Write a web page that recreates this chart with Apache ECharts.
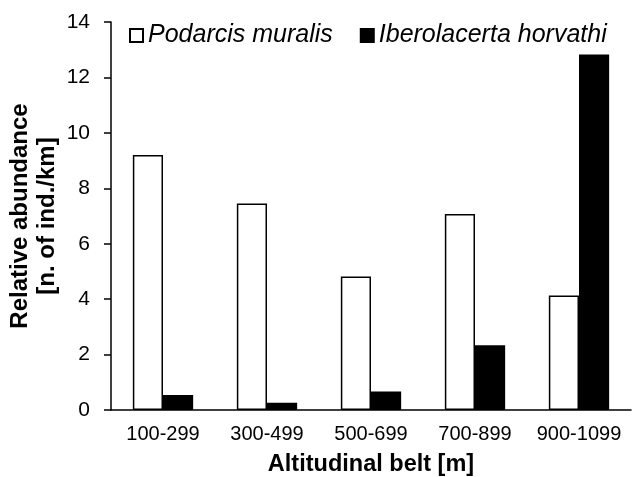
<!DOCTYPE html>
<html>
<head>
<meta charset="utf-8">
<script src="https://cdn.jsdelivr.net/npm/echarts@6/dist/echarts.min.js"></script>
<style>
  * { padding: 0; margin: 0; }
  body { background: #fff; }
</style>
</head>
<body>
<div id="chart" style="width: 632px; height: 477px"></div>
<script>
  var belts = ["100-299", "300-499", "500-699", "700-899", "900-1099"];
  var podarcis = [9.2, 7.45, 4.82, 7.07, 4.13];
  var iberolacerta = [0.54, 0.26, 0.67, 2.34, 12.83];

  var font = "Liberation Sans, Arial, sans-serif";
  var chart = echarts.init(document.getElementById("chart"));
  chart.setOption({
    animation: false,
    textStyle: { fontFamily: font, color: "#000" },
    grid: { left: 111, right: 1, top: 22, bottom: 67, outerBoundsMode: "none", containLabel: false },
    legend: {
      left: 124,
      top: 18,
      icon: "rect",
      itemWidth: 13,
      itemHeight: 13,
      itemGap: 27,
      textStyle: { fontSize: 25, fontStyle: "italic", color: "#000", fontFamily: font },
      data: ["Podarcis muralis", "Iberolacerta horvathi"],
    },
    xAxis: {
      type: "category",
      data: belts,
      name: "Altitudinal belt [m]",
      nameLocation: "middle",
      nameGap: 43,
      nameMoveOverlap: false,
      nameTextStyle: { fontSize: 23.5, fontWeight: "bold", color: "#000" },
      axisLine: { lineStyle: { color: "#000", width: 1.5 } },
      axisTick: { length: 5, lineStyle: { color: "#000", width: 1.5 } },
      axisLabel: { interval: 0, fontSize: 20, color: "#000", margin: 14 },
    },
    yAxis: {
      type: "value",
      min: 0,
      max: 14,
      interval: 2,
      name: "Relative abundance\n[n. of ind./km]",
      nameLocation: "middle",
      nameGap: 50,
      nameMoveOverlap: false,
      nameRotate: 90,
      nameTextStyle: { fontSize: 24, fontWeight: "bold", color: "#000", lineHeight: 27 },
      axisLine: { show: true, lineStyle: { color: "#000", width: 1.5 } },
      axisTick: { show: true, length: 7, lineStyle: { color: "#000", width: 1.5 } },
      axisLabel: { fontSize: 21, color: "#000", margin: 21 },
      splitLine: { show: false },
    },
    series: [
      {
        name: "Podarcis muralis",
        type: "bar",
        data: podarcis,
        barGap: "0%",
        barCategoryGap: "42%",
        itemStyle: { color: "#fff", borderColor: "#000", borderWidth: 1.5 },
      },
      {
        name: "Iberolacerta horvathi",
        type: "bar",
        data: iberolacerta,
        itemStyle: { color: "#000", borderColor: "#000", borderWidth: 1.5 },
      },
    ],
  });
</script>
</body>
</html>
